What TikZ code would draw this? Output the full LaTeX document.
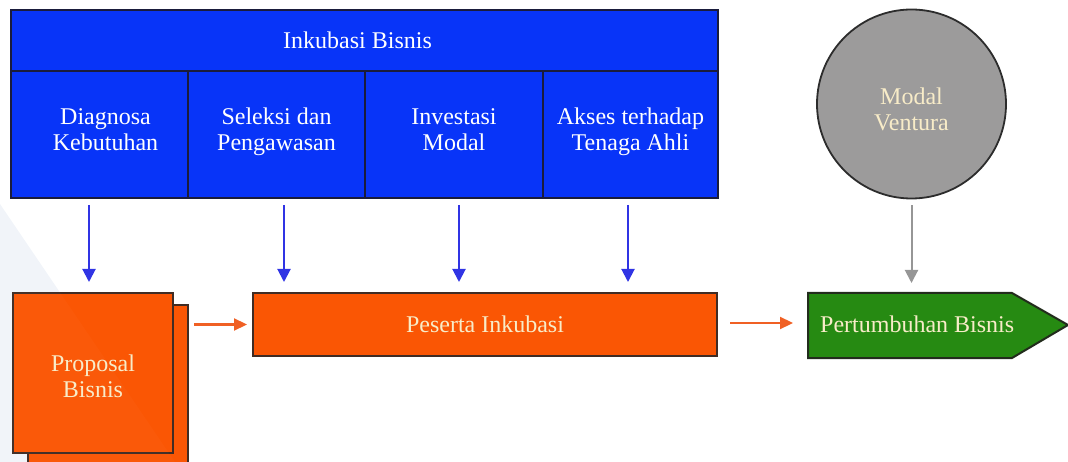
\documentclass[tikz,border=0pt]{standalone}
\usepackage{fontspec}
\setmainfont{Liberation Serif}
\usetikzlibrary{arrows.meta}
\definecolor{boxblue}{RGB}{8,52,248}
\definecolor{edgenavy}{RGB}{26,28,60}
\definecolor{boxorange}{RGB}{250,86,4}
\definecolor{edgebrown}{RGB}{64,44,36}
\definecolor{boxgreen}{RGB}{38,138,18}
\definecolor{edgegreen}{RGB}{34,44,28}
\definecolor{discgray}{RGB}{156,155,155}
\definecolor{edgegray}{RGB}{44,44,44}
\definecolor{arrowblue}{RGB}{48,52,228}
\definecolor{arroworange}{RGB}{240,96,36}
\definecolor{arrowgray}{RGB}{150,150,150}
\definecolor{cream}{RGB}{248,236,200}
\definecolor{paleblue}{RGB}{241,244,249}
\tikzset{
  bluecell/.style={draw=edgenavy, line width=2pt, fill=boxblue, text=white,
    align=center, inner sep=0pt},
  orangebox/.style={draw=edgebrown, line width=2pt, fill=boxorange, text=cream,
    align=center, inner sep=0pt},
  bluearrow/.style={draw=arrowblue, line width=2pt,
    -{Triangle[length=13pt,width=13pt]}, shorten <=6pt, shorten >=10pt},
  orangearrow/.style={draw=arroworange, line width=2.2pt,
    -{Triangle[length=13pt,width=12pt]}},
  grayarrow/.style={draw=arrowgray, line width=2pt,
    -{Triangle[length=13pt,width=13pt]}, shorten <=6pt, shorten >=10pt},
}
\begin{document}
\begin{tikzpicture}[x=1pt, y=-1pt, font=\fontsize{24}{26}\selectfont]
\useasboundingbox (0,0) rectangle (1068,462);
% pale backdrop wedge at the lower left
\fill[paleblue] (0,204) -- (175,462) -- (0,462) -- cycle;

% programme header and its four services
\node[bluecell, minimum width=707, minimum height=61] (head) at (364.5,40.5) {\hspace*{-14pt}Inkubasi Bisnis};
\node[bluecell, minimum width=177, minimum height=127] (diag) at (99.5,134.5) {\hspace*{12pt}Diagnosa\\\hspace*{12pt}Kebutuhan\\[-16pt]};
\node[bluecell, minimum width=177, minimum height=127] (sel) at (276.5,134.5) {Seleksi dan\\Pengawasan\\[-16pt]};
\node[bluecell, minimum width=178, minimum height=127] (inv) at (454,134.5) {Investasi\\Modal\\[-16pt]};
\node[bluecell, minimum width=175, minimum height=127] (akses) at (630.5,134.5) {Akses terhadap\\Tenaga Ahli\\[-16pt]};

% venture capital disc
\node[circle, draw=edgegray, line width=1.8pt, fill=discgray, text=cream,
  minimum size=189, inner sep=0pt, align=center] (vc) at (911.5,104) {\\[2pt]Modal\\Ventura};

% stacked proposal sheets
\node[orangebox, minimum width=160, minimum height=161] (propback) at (108,385.5) {};
\node[orangebox, minimum width=160, minimum height=160] (prop) at (93,373) {Proposal\\Bisnis\\[-33pt]};

% incubatee bar
\node[orangebox, minimum width=464, minimum height=63] (peserta) at (485,324.5) {Peserta Inkubasi};

% growth arrow shape
\fill[boxgreen, draw=edgegreen, line width=2pt]
  (808,293) -- (1012,293) -- (1068,325) -- (1012,358) -- (808,358) -- cycle;
\coordinate (growin) at (808,323);
\coordinate (growtop) at (911.5,293);
\node[text=cream, anchor=west, inner sep=0pt] (grow) at (820,324) {Pertumbuhan Bisnis};

% faint sheen of the backdrop across the proposal sheets
\fill[white, opacity=0.025] (0,204) -- (175,462) -- (0,462) -- cycle;

% connectors
\draw[bluearrow] ([xshift=-10.5pt]diag.south) -- ([xshift=-10.5pt]diag.south |- prop.north);
\draw[bluearrow] ([xshift=7.5pt]sel.south) -- ([xshift=7.5pt]sel.south |- peserta.north);
\draw[bluearrow] ([xshift=5pt]inv.south) -- ([xshift=5pt]inv.south |- peserta.north);
\draw[bluearrow] ([xshift=-2.5pt]akses.south) -- ([xshift=-2.5pt]akses.south |- peserta.north);
\draw[grayarrow] (vc.south) -- (growtop);
\draw[orangearrow] ([xshift=5pt]propback.east |- peserta.west) -- ([xshift=-5pt]peserta.west);
\draw[orangearrow] ([xshift=12pt]peserta.east |- growin) -- ([xshift=-15pt]growin);
\end{tikzpicture}
\end{document}
